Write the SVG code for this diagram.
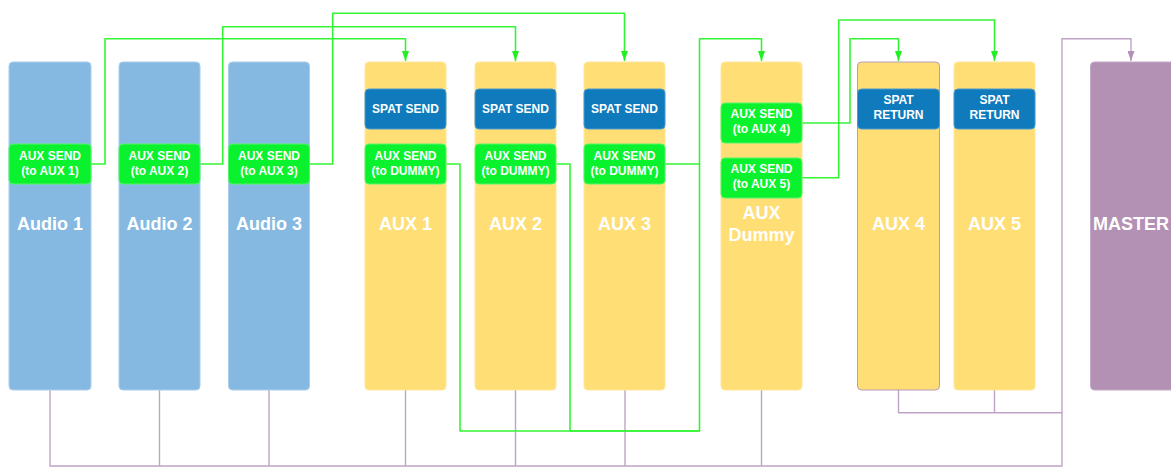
<svg xmlns="http://www.w3.org/2000/svg" width="1171" height="467" viewBox="0 0 1171 467">
<defs>
<style>
.audio{fill:#85B9E2;stroke:#A9CDEB;stroke-width:1}
.aux{fill:#FFDE76;stroke:#FFE79A;stroke-width:1}
.aux4{fill:#FFDE76;stroke:#B89BBB;stroke-width:1}
.master{fill:#B391B5;stroke:#C3A8C5;stroke-width:1}
.send{fill:#0AF22E;stroke:#55F56A;stroke-width:1}
.spat{fill:#0F7BBD;stroke:#4A9BD0;stroke-width:1}
.st{font-family:"Liberation Sans",Arial,sans-serif;font-weight:bold;font-size:12px;fill:#FFFFFF;text-anchor:middle}
.big{font-family:"Liberation Sans",Arial,sans-serif;font-weight:bold;font-size:18px;fill:#FFFFFF;text-anchor:middle}
.g{fill:none;stroke:#33F533;stroke-width:1.6;stroke-linejoin:round}
.p{fill:none;stroke:#BFA3C6;stroke-width:1.4;stroke-linejoin:round}
</style>
<marker id="ag" viewBox="0 0 10 7" refX="10" refY="3.5" markerWidth="10" markerHeight="7" markerUnits="userSpaceOnUse" orient="auto">
<path d="M0,0 L10,3.5 L0,7 Z" fill="#22F022"/>
</marker>
<marker id="ap" viewBox="0 0 10 7" refX="10" refY="3.5" markerWidth="10" markerHeight="7" markerUnits="userSpaceOnUse" orient="auto">
<path d="M0,0 L10,3.5 L0,7 Z" fill="#B391B5"/>
</marker>
</defs>
<rect width="1171" height="467" fill="#FFFFFF"/>

<g id="connectors">
<path class="p" d="M50,390 V466 H1062 V38.7 H1131 V61" marker-end="url(#ap)"/>
<path class="p" d="M159.5,390 V466"/>
<path class="p" d="M269,390 V466"/>
<path class="p" d="M405.5,390 V466"/>
<path class="p" d="M515.5,390 V466"/>
<path class="p" d="M625,390 V466"/>
<path class="p" d="M761.5,390 V466"/>
<path class="p" d="M898.5,390 V412.7 H1062"/>
<path class="p" d="M994.5,390 V412.7"/>

<path class="g" d="M91,164 H105 V38.7 H405.5 V61" marker-end="url(#ag)"/>
<path class="g" d="M200,164 H222.7 V26.7 H515.5 V61" marker-end="url(#ag)"/>
<path class="g" d="M310,164 H332.7 V13.3 H624.5 V61" marker-end="url(#ag)"/>
<path class="g" d="M446,164 H460 V431 H699.5 V38.7 H761.5 V61" marker-end="url(#ag)"/>
<path class="g" d="M556,164 H570 V431 H699.5"/>
<path class="g" d="M665,164 H699.5"/>
<path class="g" d="M802,123 H850 V38.7 H898.5 V61" marker-end="url(#ag)"/>
<path class="g" d="M802,177.7 H838.7 V20 H994.5 V61" marker-end="url(#ag)"/>
</g>

<g id="audio1">
<rect class="audio" x="9" y="62" width="82" height="328" rx="4"/>
<rect class="send" x="9" y="144" width="82" height="40" rx="4"/>
<text class="st" x="50" y="160">AUX SEND</text>
<text class="st" x="50" y="174.5">(to AUX 1)</text>
<text class="big" x="50" y="230">Audio 1</text>
</g>
<g id="audio2">
<rect class="audio" x="119" y="62" width="81" height="328" rx="4"/>
<rect class="send" x="119" y="144" width="81" height="40" rx="4"/>
<text class="st" x="159.5" y="160">AUX SEND</text>
<text class="st" x="159.5" y="174.5">(to AUX 2)</text>
<text class="big" x="159.5" y="230">Audio 2</text>
</g>
<g id="audio3">
<rect class="audio" x="228.5" y="62" width="81" height="328" rx="4"/>
<rect class="send" x="228.5" y="144" width="81" height="40" rx="4"/>
<text class="st" x="269" y="160">AUX SEND</text>
<text class="st" x="269" y="174.5">(to AUX 3)</text>
<text class="big" x="269" y="230">Audio 3</text>
</g>

<g id="aux1">
<rect class="aux" x="365" y="62" width="81" height="328" rx="4"/>
<rect class="spat" x="365" y="89" width="81" height="40" rx="4"/>
<text class="st" x="405.5" y="113">SPAT SEND</text>
<rect class="send" x="365" y="144" width="81" height="40" rx="4"/>
<text class="st" x="405.5" y="160">AUX SEND</text>
<text class="st" x="405.5" y="174.5">(to DUMMY)</text>
<text class="big" x="405.5" y="230">AUX 1</text>
</g>
<g id="aux2">
<rect class="aux" x="475" y="62" width="81" height="328" rx="4"/>
<rect class="spat" x="475" y="89" width="81" height="40" rx="4"/>
<text class="st" x="515.5" y="113">SPAT SEND</text>
<rect class="send" x="475" y="144" width="81" height="40" rx="4"/>
<text class="st" x="515.5" y="160">AUX SEND</text>
<text class="st" x="515.5" y="174.5">(to DUMMY)</text>
<text class="big" x="515.5" y="230">AUX 2</text>
</g>
<g id="aux3">
<rect class="aux" x="584" y="62" width="81" height="328" rx="4"/>
<rect class="spat" x="584" y="89" width="81" height="40" rx="4"/>
<text class="st" x="624.5" y="113">SPAT SEND</text>
<rect class="send" x="584" y="144" width="81" height="40" rx="4"/>
<text class="st" x="624.5" y="160">AUX SEND</text>
<text class="st" x="624.5" y="174.5">(to DUMMY)</text>
<text class="big" x="624.5" y="230">AUX 3</text>
</g>

<g id="auxdummy">
<rect class="aux" x="721" y="62" width="81" height="328" rx="4"/>
<rect class="send" x="721" y="103" width="81" height="40" rx="4"/>
<text class="st" x="761.5" y="118.3">AUX SEND</text>
<text class="st" x="761.5" y="132.8">(to AUX 4)</text>
<rect class="send" x="721" y="158" width="81" height="40" rx="4"/>
<text class="st" x="761.5" y="173.3">AUX SEND</text>
<text class="st" x="761.5" y="187.8">(to AUX 5)</text>
<text class="big" x="761.5" y="219">AUX</text>
<text class="big" x="761.5" y="241">Dummy</text>
</g>

<g id="aux4">
<rect class="aux4" x="857.5" y="62" width="82" height="328" rx="4"/>
<rect class="spat" x="857.5" y="89" width="82" height="40" rx="4"/>
<text class="st" x="898.5" y="104.3">SPAT</text>
<text class="st" x="898.5" y="119.3">RETURN</text>
<text class="big" x="898.5" y="230">AUX 4</text>
</g>
<g id="aux5">
<rect class="aux" x="954" y="62" width="81" height="328" rx="4"/>
<rect class="spat" x="954" y="89" width="81" height="40" rx="4"/>
<text class="st" x="994.5" y="104.3">SPAT</text>
<text class="st" x="994.5" y="119.3">RETURN</text>
<text class="big" x="994.5" y="230">AUX 5</text>
</g>

<g id="master">
<rect class="master" x="1090.5" y="62" width="90" height="328" rx="4"/>
<text class="big" x="1131" y="230">MASTER</text>
</g>
</svg>
